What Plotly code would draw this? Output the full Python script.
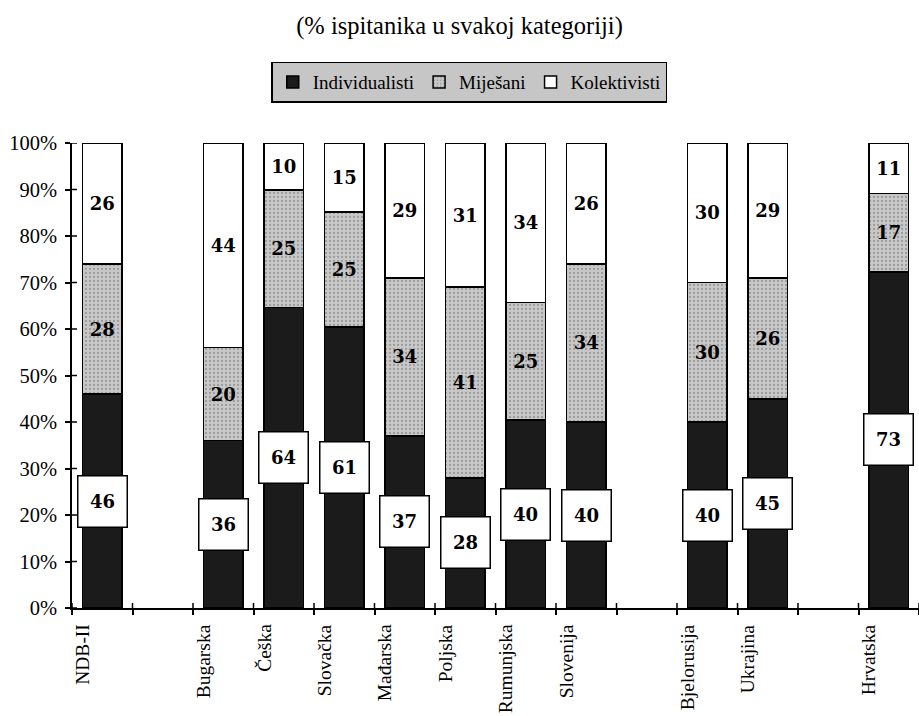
import plotly.graph_objects as go

# Slots along the x axis; empty strings are spacer slots between country groups
labels = ["NDB-II", "", "Bugarska", "Češka", "Slovačka", "Mađarska", "Poljska",
          "Rumunjska", "Slovenija", "", "Bjelorusija", "Ukrajina", "", "Hrvatska"]
individualisti = [46, None, 36, 64, 61, 37, 28, 40, 40, None, 40, 45, None, 73]
mijesani = [28, None, 20, 25, 25, 34, 41, 25, 34, None, 30, 26, None, 17]
kolektivisti = [26, None, 44, 10, 15, 29, 31, 34, 26, None, 30, 29, None, 11]

y_ticks = list(range(0, 101, 10))
y_ticktext = [f"{v}%" for v in y_ticks]

SERIF = "Liberation Serif"
NUM_FONT = dict(family="DejaVu Serif", size=18, color="black", weight="bold")

x = list(range(len(labels)))


def txt(vals):
    return ["" if v is None else str(v) for v in vals]


fig = go.Figure()
fig.add_trace(go.Bar(
    name="Individualisti", x=x, y=individualisti,
    marker=dict(color="#1b1b1b", line=dict(color="black", width=1.5)),
))
fig.add_trace(go.Bar(
    name="Miješani", x=x, y=mijesani, text=txt(mijesani),
    textposition="inside", insidetextanchor="middle", textangle=0,
    textfont=NUM_FONT,
    marker=dict(color="#c4c4c4", line=dict(color="black", width=1.5),
                pattern=dict(shape=".", fgcolor="#6e6e6e", bgcolor="#c8c8c8",
                             size=4, solidity=0.25)),
))
fig.add_trace(go.Bar(
    name="Kolektivisti", x=x, y=kolektivisti, text=txt(kolektivisti),
    textposition="inside", insidetextanchor="middle", textangle=0,
    textfont=NUM_FONT,
    marker=dict(color="white", line=dict(color="black", width=1.5)),
))

# Boxed value labels in the middle of the dark segments
for i, (a, b, c) in enumerate(zip(individualisti, mijesani, kolektivisti)):
    if a is None:
        continue
    total = a + b + c
    fig.add_annotation(
        x=i, y=a / 2 / total * 100, xref="x", yref="y",
        text=str(a), showarrow=False, font=NUM_FONT,
        bgcolor="white", bordercolor="black", borderwidth=1.5,
        borderpad=2, width=44, height=46, align="center", valign="middle",
    )

# Rotated category names under the axis
for i, name in enumerate(labels):
    if not name:
        continue
    fig.add_annotation(
        x=i - 0.33, y=0, xref="x", yref="paper", yshift=-14,
        text=name, textangle=-90, showarrow=False,
        xanchor="center", yanchor="top",
        font=dict(family=SERIF, size=19.5, color="black"),
    )

boundaries = [k - 0.5 for k in range(len(labels) + 1)]

# Inner halves of the crossing tick marks
for bx in boundaries:
    fig.add_shape(type="line", xref="x", yref="paper", x0=bx, x1=bx,
                  ysizemode="pixel", yanchor=0, y0=0, y1=5,
                  line=dict(color="black", width=1.5))
for ty in y_ticks:
    fig.add_shape(type="line", xref="paper", yref="y", y0=ty, y1=ty,
                  xsizemode="pixel", xanchor=0, x0=0, x1=5,
                  line=dict(color="black", width=1.5))

fig.update_layout(
    width=919, height=716,
    margin=dict(l=72, r=0, t=143, b=108),
    paper_bgcolor="white", plot_bgcolor="white",
    barmode="stack", barnorm="percent", bargap=0.34,
    title=dict(text="(% ispitanika u svakoj kategoriji)",
               x=0.5, xanchor="center", xref="container",
               y=1 - 25 / 716, yanchor="middle", yref="container",
               font=dict(family=SERIF, size=24.5, color="black")),
    legend=dict(orientation="h", x=0.469, xanchor="center",
                y=1.131, yanchor="middle", traceorder="normal",
                bgcolor="#c6c6c6", bordercolor="black", borderwidth=1.5,
                font=dict(family=SERIF, size=19, color="black"),
                itemwidth=30, tracegroupgap=0),
    showlegend=True,
    xaxis=dict(range=[-0.5, len(labels) - 0.5], showgrid=False, zeroline=False,
               showline=True, linecolor="black", linewidth=1.5,
               tickmode="array", tickvals=boundaries, ticks="outside",
               ticklen=5, tickwidth=1.5, tickcolor="black",
               showticklabels=False),
    yaxis=dict(range=[0, 100], showgrid=False, zeroline=False,
               showline=True, linecolor="black", linewidth=1.5,
               tickmode="array", tickvals=y_ticks, ticktext=y_ticktext,
               ticks="outside", ticklen=5, tickwidth=1.5, tickcolor="black",
               ticklabelstandoff=4,
               tickfont=dict(family=SERIF, size=20.5, color="black")),
)

fig.write_html("out.html")
